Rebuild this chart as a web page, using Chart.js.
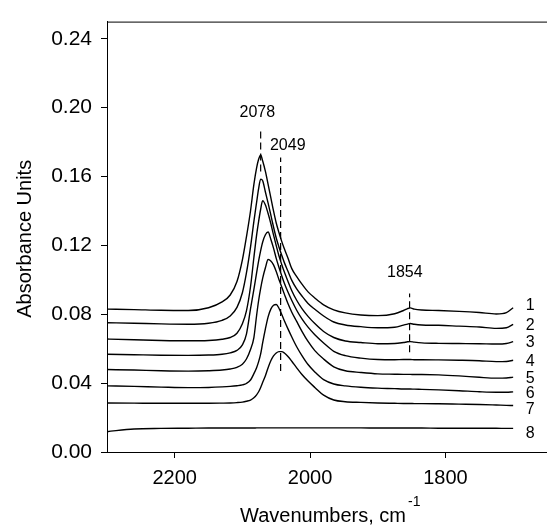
<!DOCTYPE html>
<html>
<head>
<meta charset="utf-8">
<script src="https://cdn.jsdelivr.net/npm/chart.js@4.4.0/dist/chart.umd.min.js"></script>
<style>
  html, body { margin: 0; padding: 0; background: #fff; }
  #wrap { width: 547px; height: 532px; }
</style>
</head>
<body>
<div id="wrap"><canvas id="spectra" width="547" height="532"></canvas></div>
<script>
// IR spectra, absorbance vs wavenumber (cm-1), 8 traces stacked
const wavenumbers = [2300, 2260, 2220, 2180, 2150, 2130, 2118, 2108, 2100, 2094,
  2088, 2083, 2079, 2076, 2073, 2070, 2066, 2062, 2058, 2054,
  2050, 2046, 2042, 2038, 2033, 2027, 2020, 2012, 2003, 1993,
  1980, 1965, 1948, 1925, 1900, 1875, 1862, 1856, 1852, 1846,
  1835, 1810, 1780, 1750, 1725, 1710, 1700];

const curve1 = [0.0830, 0.0827, 0.0823, 0.0822, 0.0838, 0.0872, 0.0912, 0.0990, 0.1116, 0.1250,
  0.1400, 0.1554, 0.1650, 0.1700, 0.1725, 0.1690, 0.1630, 0.1555, 0.1478, 0.1400,
  0.1330, 0.1275, 0.1225, 0.1180, 0.1130, 0.1065, 0.1020, 0.0975, 0.0930, 0.0895,
  0.0855, 0.0826, 0.0808, 0.0796, 0.0792, 0.0803, 0.0822, 0.0833, 0.0837, 0.0830,
  0.0825, 0.0822, 0.0817, 0.0810, 0.0802, 0.0810, 0.0838];
const curve2 = [0.0751, 0.0748, 0.0744, 0.0742, 0.0748, 0.0765, 0.0790, 0.0840, 0.0925, 0.1040,
  0.1190, 0.1340, 0.1450, 0.1530, 0.1585, 0.1575, 0.1510, 0.1446, 0.1377, 0.1307,
  0.1243, 0.1191, 0.1144, 0.1100, 0.1053, 0.0997, 0.0949, 0.0906, 0.0863, 0.0829,
  0.0790, 0.0755, 0.0738, 0.0728, 0.0722, 0.0725, 0.0737, 0.0743, 0.0746, 0.0742,
  0.0738, 0.0736, 0.0731, 0.0726, 0.0718, 0.0722, 0.0742];
const curve3 = [0.0656, 0.0652, 0.0648, 0.0646, 0.0648, 0.0655, 0.0665, 0.0690, 0.0745, 0.0820,
  0.0960, 0.1130, 0.1260, 0.1340, 0.1410, 0.1460, 0.1435, 0.1385, 0.1327, 0.1261,
  0.1199, 0.1140, 0.1091, 0.1045, 0.0995, 0.0937, 0.0883, 0.0833, 0.0788, 0.0746,
  0.0700, 0.0665, 0.0645, 0.0636, 0.0629, 0.0630, 0.0636, 0.0640, 0.0641, 0.0638,
  0.0634, 0.0631, 0.0630, 0.0629, 0.0627, 0.0630, 0.0641];
const curve4 = [0.0568, 0.0565, 0.0562, 0.0561, 0.0563, 0.0568, 0.0576, 0.0590, 0.0622, 0.0685,
  0.0831, 0.0945, 0.1040, 0.1110, 0.1170, 0.1220, 0.1262, 0.1278, 0.1236, 0.1184,
  0.1125, 0.1073, 0.1025, 0.0980, 0.0932, 0.0880, 0.0825, 0.0773, 0.0725, 0.0681,
  0.0633, 0.0585, 0.0560, 0.0545, 0.0537, 0.0536, 0.0537, 0.0537, 0.0537, 0.0536,
  0.0536, 0.0535, 0.0533, 0.0530, 0.0525, 0.0526, 0.0533];
const curve5 = [0.0479, 0.0476, 0.0472, 0.0470, 0.0472, 0.0476, 0.0482, 0.0492, 0.0510, 0.0540,
  0.0595, 0.0665, 0.0793, 0.0880, 0.0950, 0.1010, 0.1070, 0.1118, 0.1110, 0.1087,
  0.1048, 0.1002, 0.0960, 0.0917, 0.0865, 0.0812, 0.0760, 0.0701, 0.0642, 0.0589,
  0.0540, 0.0495, 0.0472, 0.0462, 0.0454, 0.0452, 0.0451, 0.0451, 0.0451, 0.0450,
  0.0450, 0.0448, 0.0442, 0.0434, 0.0429, 0.0430, 0.0435];
const curve6 = [0.0384, 0.0381, 0.0377, 0.0374, 0.0375, 0.0378, 0.0381, 0.0385, 0.0390, 0.0398,
  0.0418, 0.0455, 0.0490, 0.0525, 0.0570, 0.0635, 0.0715, 0.0785, 0.0830, 0.0852,
  0.0857, 0.0835, 0.0800, 0.0762, 0.0718, 0.0668, 0.0613, 0.0560, 0.0508, 0.0465,
  0.0420, 0.0395, 0.0384, 0.0376, 0.0371, 0.0368, 0.0366, 0.0366, 0.0366, 0.0365,
  0.0364, 0.0361, 0.0356, 0.0350, 0.0347, 0.0347, 0.0349];
const curve7 = [0.0285, 0.0284, 0.0283, 0.0283, 0.0283, 0.0284, 0.0285, 0.0287, 0.0290, 0.0295,
  0.0302, 0.0315, 0.0332, 0.0350, 0.0375, 0.0405, 0.0443, 0.0490, 0.0530, 0.0558,
  0.0575, 0.0583, 0.0583, 0.0575, 0.0556, 0.0527, 0.0490, 0.0450, 0.0412, 0.0375,
  0.0330, 0.0302, 0.0292, 0.0288, 0.0285, 0.0283, 0.0282, 0.0282, 0.0282, 0.0281,
  0.0281, 0.0280, 0.0278, 0.0276, 0.0273, 0.0271, 0.0270];
const curve8 = [0.0118, 0.0134, 0.0137, 0.0138, 0.0139, 0.0139, 0.0139, 0.0139, 0.0139, 0.0139,
  0.0139, 0.0139, 0.0140, 0.0140, 0.0140, 0.0140, 0.0140, 0.0140, 0.0140, 0.0140,
  0.0140, 0.0140, 0.0140, 0.0140, 0.0140, 0.0140, 0.0140, 0.0140, 0.0140, 0.0140,
  0.0140, 0.0140, 0.0140, 0.0140, 0.0139, 0.0139, 0.0139, 0.0139, 0.0139, 0.0139,
  0.0139, 0.0138, 0.0138, 0.0138, 0.0138, 0.0137, 0.0137];

const curves = [curve1, curve2, curve3, curve4, curve5, curve6, curve7, curve8];
const curveNames = ['1', '2', '3', '4', '5', '6', '7', '8'];
const curveNameY = [0.0850, 0.0736, 0.0637, 0.0523, 0.0428, 0.0340, 0.0245, 0.0108];
const curveNameWn = 1675;

const xTicks = [2200, 2000, 1800];
const yTicks = [0, 0.04, 0.08, 0.12, 0.16, 0.20, 0.24];

// dashed peak markers
const peakText = ['2078', '2049', '1854'];
const peakLineWn = [2073, 2043.5, 1853];
const peakLineLow = [0.163, 0.047, 0.058];
const peakLineHigh = [0.188, 0.171, 0.092];
const peakTextWn = [2078, 2033, 1860];
const peakTextY = [0.197, 0.1782, 0.104];

const FONT = '"Liberation Sans", Arial, Helvetica, sans-serif';

const datasets = curves.map(function (vals, i) {
  return {
    label: curveNames[i],
    data: wavenumbers.map(function (w, j) { return { x: w, y: vals[j] }; }),
    borderColor: '#000',
    borderWidth: 1.4,
    pointRadius: 0,
    cubicInterpolationMode: 'monotone',
    fill: false,
  };
});

peakLineWn.forEach(function (w, i) {
  datasets.push({
    label: 'marker ' + peakText[i],
    data: [{ x: w, y: peakLineLow[i] }, { x: w, y: peakLineHigh[i] }],
    borderColor: '#000',
    borderWidth: 1.2,
    borderDash: [7, 4],
    pointRadius: 0,
    fill: false,
  });
});

const textPlugin = {
  id: 'spectraText',
  afterDatasetsDraw: function (chart) {
    const ctx = chart.ctx;
    const xs = chart.scales.x;
    const ys = chart.scales.y;
    const area = chart.chartArea;
    ctx.save();

    // top frame line
    ctx.strokeStyle = '#000';
    ctx.lineWidth = 1;
    ctx.beginPath();
    ctx.moveTo(area.left, area.top + 0.5);
    ctx.lineTo(area.right, area.top + 0.5);
    ctx.stroke();

    ctx.fillStyle = '#000';
    ctx.textAlign = 'center';
    ctx.textBaseline = 'middle';
    ctx.font = '16px ' + FONT;
    curveNames.forEach(function (name, i) {
      ctx.fillText(name, xs.getPixelForValue(curveNameWn), ys.getPixelForValue(curveNameY[i]));
    });
    peakText.forEach(function (t, i) {
      ctx.fillText(t, xs.getPixelForValue(peakTextWn[i]), ys.getPixelForValue(peakTextY[i]));
    });

    // axis titles
    ctx.font = '20px ' + FONT;
    ctx.textBaseline = 'alphabetic';
    ctx.save();
    ctx.translate(31, (area.top + area.bottom) / 2 + 2);
    ctx.rotate(-Math.PI / 2);
    ctx.textAlign = 'center';
    ctx.fillText('Absorbance Units', 0, 0);
    ctx.restore();

    const main = 'Wavenumbers, cm';
    ctx.textAlign = 'left';
    const w = ctx.measureText(main).width;
    const x0 = 240;
    ctx.fillText(main, x0, 522);
    ctx.font = '14px ' + FONT;
    ctx.fillText('-1', x0 + w + 2, 506);
    ctx.restore();
  },
};

new Chart(document.getElementById('spectra'), {
  type: 'line',
  data: { datasets: datasets },
  options: {
    responsive: false,
    animation: false,
    layout: { padding: { top: 13, right: 0, left: 0, bottom: 0 } },
    plugins: { legend: { display: false }, tooltip: { enabled: false } },
    scales: {
      x: {
        type: 'linear',
        reverse: true,
        min: 1650,
        max: 2300,
        afterBuildTicks: function (s) { s.ticks = xTicks.map(function (v) { return { value: v }; }); },
        afterFit: function (s) { s.height = 80; },
        grid: { drawOnChartArea: false, drawTicks: true, tickLength: 6, color: '#000' },
        border: { color: '#000', width: 1 },
        ticks: {
          color: '#000',
          font: { family: FONT, size: 20 },
          padding: 8,
          maxRotation: 0,
          callback: function (v) { return String(v); },
        },
      },
      y: {
        type: 'linear',
        min: 0,
        max: 0.25,
        afterBuildTicks: function (s) { s.ticks = yTicks.map(function (v) { return { value: v }; }); },
        afterFit: function (s) { s.width = 107; },
        grid: { drawOnChartArea: false, drawTicks: true, tickLength: 6, color: '#000' },
        border: { color: '#000', width: 1 },
        ticks: {
          color: '#000',
          font: { family: FONT, size: 21 },
          padding: 9,
          callback: function (v) { return v.toFixed(2); },
        },
      },
    },
  },
  plugins: [textPlugin],
});
</script>
</body>
</html>
